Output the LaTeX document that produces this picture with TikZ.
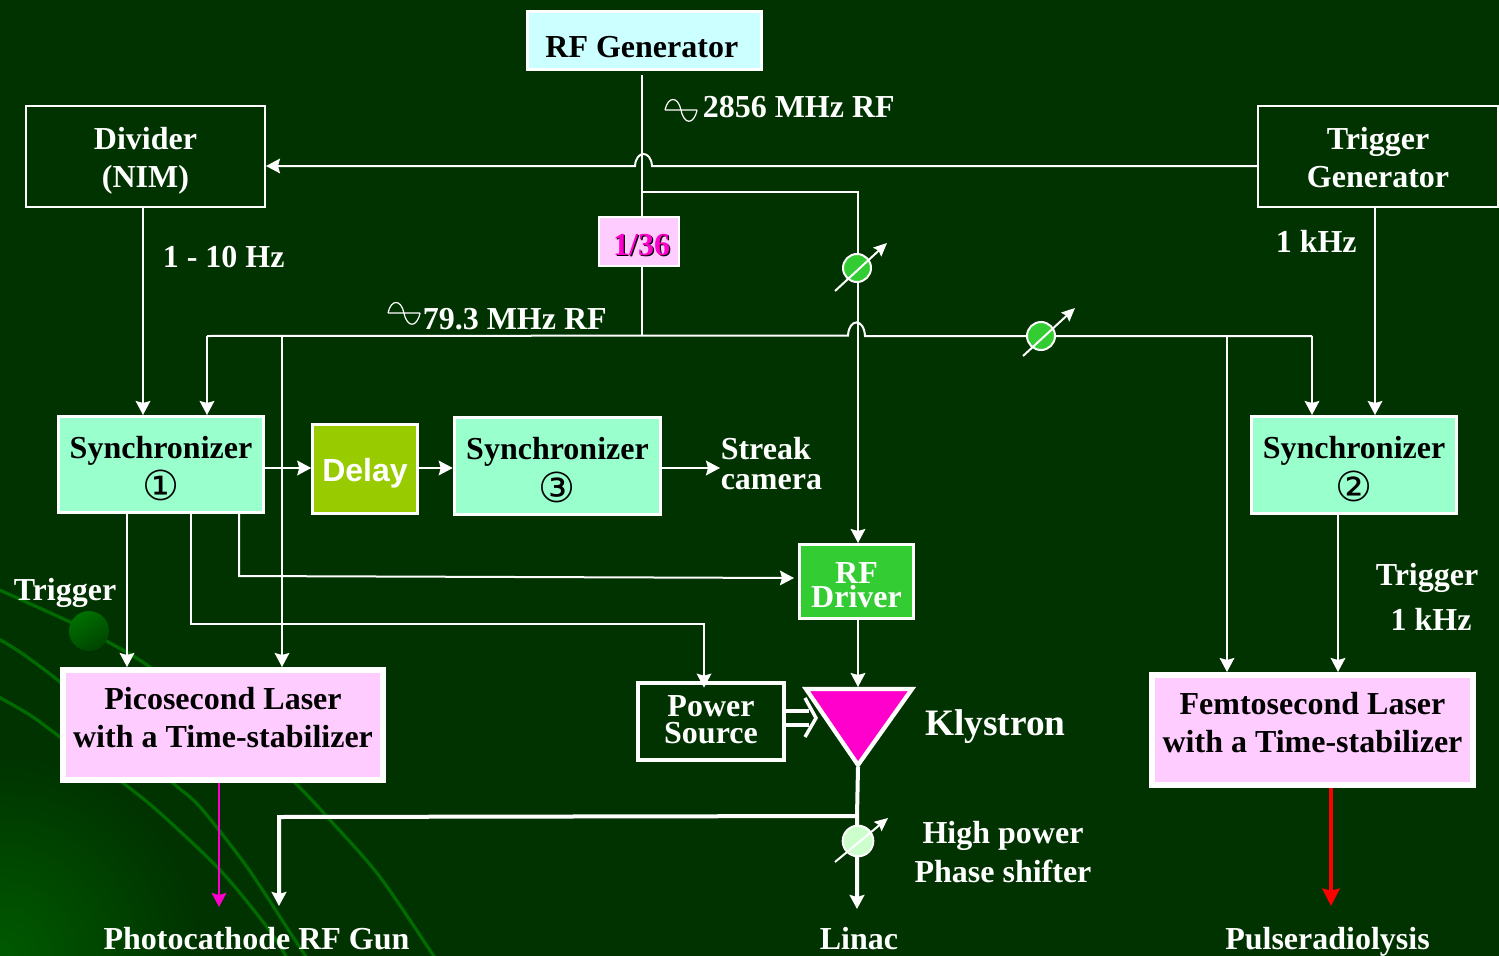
\documentclass[tikz,border=0pt]{standalone}
\usepackage{fontspec}
\setmainfont{Liberation Serif}
\newfontfamily\delayfont{Liberation Sans}
\newfontfamily\symfont{DejaVu Sans}
\usetikzlibrary{arrows.meta,calc}
\definecolor{bgc}{HTML}{003300}
\definecolor{cornerc}{HTML}{005A00}
\definecolor{swoosh}{HTML}{006C00}
\definecolor{dotlight}{HTML}{007000}
\definecolor{dotdark}{HTML}{004400}
\definecolor{cyanbox}{HTML}{CCFFFF}
\definecolor{pinkbox}{HTML}{FFCCFF}
\definecolor{mintbox}{HTML}{99FFCC}
\definecolor{oliveb}{HTML}{99CC00}
\definecolor{greenb}{HTML}{33CC33}
\definecolor{paleg}{HTML}{CCFFCC}
\definecolor{magc}{HTML}{FF00CC}
\definecolor{redc}{HTML}{FF0000}
\pgfdeclareradialshading{cornerglow}{\pgfpoint{0bp}{0bp}}{color(0bp)=(cornerc); color(25bp)=(bgc); color(50bp)=(bgc)}
\newcommand{\twol}[4]{\smash{\raisebox{#1}{\fontsize{24}{#2}\bfseries\selectfont\begin{tabular}{@{}c@{}}\smash{#3}\\\smash{#4}\end{tabular}}}}
\newcommand{\onel}[2]{\smash{\raisebox{#1}{\fontsize{24}{28}\bfseries\selectfont #2}}}
\newcommand{\circd}[1]{{\fontsize{31}{31}\symfont\mdseries #1}}
\tikzset{
  x=0.75pt,y=-0.75pt,
  bx/.style n args={3}{draw=white,line width=#3*0.75pt,inner sep=0pt,minimum width=#1*0.75pt,minimum height=#2*0.75pt},
  lab/.style={text=white,inner sep=0pt,font=\fontsize{24}{28}\bfseries\selectfont},
  wire/.style={draw=white,line width=1.5pt,line join=miter},
  tipa/.style={-{Stealth[length=10.5pt,width=11pt,inset=1.5pt]}},
  arr/.style={wire,tipa},
  thick wire/.style={draw=white,line width=3pt},
  shifter/.style={circle,draw=white,line width=1.5pt,inner sep=0pt,minimum size=21pt,fill=greenb},
  shifterarrow/.style={draw=white,line width=1.5pt,-{Stealth[length=10pt,width=9pt,inset=1.5pt]}},
  sinewave/.style={draw=white,line width=0.9pt},
  swooshline/.style={draw=swoosh,line width=2.4pt,smooth},
}
\begin{document}
\begin{tikzpicture}
\useasboundingbox (0,0) rectangle (1499,956);
\fill[bgc] (0,0) rectangle (1499,956);
\begin{scope}
\clip (0,0) rectangle (1499,956);
\shade[shading=cornerglow] (0,956) circle (200);
\draw[swooshline] plot coordinates {(-5,588) (70,622) (110,643) (147,665) (230,725) (295,783) (330,820) (380,877) (435,958)};
\draw[swooshline] plot coordinates {(-5,637) (20,652) (60,682) (120,735) (173,783) (200,807) (247,867) (293,937) (307,958)};
\draw[swooshline] plot coordinates {(-5,695) (30,715) (60,737) (123,783) (160,813) (220,870) (267,927) (287,958)};
\shade[left color=dotlight,right color=dotdark,shading angle=30] (89,631) circle (20);
\end{scope}

% guide coordinates
\coordinate (hline) at (0,166);
\coordinate (rfline) at (0,192);
\coordinate (lowline) at (0,336);
\coordinate (mainx) at (642,0);
\coordinate (phx) at (858,0);
\coordinate (cA) at (127,0);
\coordinate (cB) at (191,0);
\coordinate (cC) at (239,0);
\coordinate (cD) at (282,0);
\coordinate (cE) at (207,0);
\coordinate (cF) at (143,0);
\coordinate (cG) at (704,0);
\coordinate (cH) at (1227,0);
\coordinate (cI) at (1312,0);
\coordinate (cJ) at (1375,0);
\coordinate (cK) at (1338,0);
\coordinate (cL) at (219,0);
\coordinate (cM) at (1331,0);
\coordinate (rowA) at (0,468);

% boxes
\node[bx={234}{58}{3},fill=cyanbox,text=black] (rfgen) at (644.5,40.5) {\onel{-13pt}{\hspace{-4pt}RF Generator}};
\node[bx={239}{101}{2},text=white] (divider) at (145.5,156.5) {\twol{-9.25pt}{28.5pt}{Divider}{(NIM)}};
\node[bx={240}{101}{2},text=white] (trigger) at (1378,156.5) {\twol{-9.25pt}{28.5pt}{Trigger}{Generator}};
\node[bx={80}{49}{2},fill=pinkbox] (div36) at (639,241.5) {\onel{-10.5pt}{\hspace{4pt}\makebox[0pt][l]{\kern0.9pt\raisebox{-0.9pt}{\color{black}1/36}}\textcolor{magc}{1/36}}};
\node[bx={205}{96}{3},fill=mintbox,text=black] (sync1) at (161,464.5) {\twol{-11pt}{32pt}{Synchronizer}{\circd{①}}};
\node[bx={105}{89}{2.5},fill=oliveb,text=white] (delay) at (365,469) {\smash{\raisebox{-9.4pt}{\delayfont\bfseries\fontsize{24}{28}\selectfont Delay}}};
\node[bx={206}{97}{3.5},fill=mintbox,text=black] (sync3) at (557.5,466) {\twol{-11pt}{32pt}{Synchronizer}{\circd{③}}};
\node[bx={205}{97}{3},fill=mintbox,text=black] (sync2) at (1354,465) {\twol{-11pt}{32pt}{Synchronizer}{\circd{②}}};
\node[bx={114}{74}{3},fill=greenb,text=white] (rfdriver) at (856.5,581.5) {\twol{-13pt}{18pt}{RF}{Driver}};
\node[bx={320}{110}{6},fill=pinkbox,text=black] (pico) at (223,725) {\twol{-3.25pt}{28.5pt}{Picosecond Laser}{with a Time-stabilizer}};
\node[bx={321}{110}{6},fill=pinkbox,text=black] (femto) at (1312.5,730) {\twol{-3.25pt}{28.5pt}{Femtosecond Laser}{with a Time-stabilizer}};
\node[bx={146}{77}{4},text=white] (power) at (711,721.5) {\twol{-8.4pt}{20.25pt}{Power}{Source}};

% klystron anchor points
\coordinate (kTL) at (806,689);
\coordinate (kTR) at (912,689);
\coordinate (kB) at (858,765);
\coordinate (kTop) at (858,687);
\coordinate (kBot) at (858,767);
\coordinate (kOut) at (857,816);

% free ends
\coordinate (streakend) at (720,468);
\coordinate (gunend) at (279,906);
\coordinate (linacend) at (857,909);
\coordinate (pcend) at (219,907);
\coordinate (prend) at (1331,906);

% trigger line with hop over main RF line
\draw[arr] (trigger.west |- hline) -- (652,166) .. controls (651,150) and (636,150) .. (635,166) -- (divider.east |- hline);
% RF
\draw[wire] (642,75) -- (div36.north -| mainx);
\draw[wire] (642,192) -- (858,192) -- (858,336);
\draw[wire] (div36.south -| mainx) -- (642,336);
\draw[arr] (858,336) -- (rfdriver.north -| phx);
% low frequency bus
\draw[arr] (207,336) -- (sync1.north -| cE);
\draw[wire] (207,336) -- (848,335.5) .. controls (849,318) and (864,318) .. (865,336) -- (1312,336);
\draw[arr] (1312,336) -- (sync2.north -| cI);
\draw[arr] (282,336) -- (pico.north -| cD);
\draw[arr] (1227,336) -- (femto.north -| cH);
\draw[arr] (trigger.south -| cJ) -- (sync2.north -| cJ);
\draw[arr] (divider.south -| cF) -- (sync1.north -| cF);
% row
\draw[arr] (sync1.east |- rowA) -- (delay.west |- rowA);
\draw[arr] (delay.east |- rowA) -- (sync3.west |- rowA);
\draw[arr] (sync3.east |- rowA) -- (streakend);
% sync1 outputs
\draw[arr] (sync1.south -| cA) -- (pico.north -| cA);
\draw[arr,shorten >=-5pt] (sync1.south -| cB) -- (191,624) -- (704,624) -- (power.north -| cG);
\draw[arr] (sync1.south -| cC) -- (239,576) -- (794,578);
\draw[arr] (sync2.south -| cK) -- (femto.north -| cK);
\draw[arr] (rfdriver.south -| phx) -- (kTop);
% laser outputs
\draw[draw=magc,line width=1.9pt,tipa] (pico.south -| cL) -- (pcend);
\draw[draw=redc,line width=3.4pt,-{Stealth[length=13pt,width=13pt,inset=1.5pt]}] (femto.south -| cM) -- (prend);
% klystron outputs
\draw[thick wire,tipa] (kBot) -- (kOut) -- (linacend);
\draw[thick wire,tipa,line join=miter] (kOut) -- (279,817) -- (gunend);
% power feed
\draw[draw=white,line width=2.6pt] (power.east |- 0,711) -- (809,711) (power.east |- 0,725) -- (809,725);
\draw[draw=white,line width=2.6pt] (805,698) -- (816,718) -- (805,737);
% klystron
\fill[magc,draw=white,line width=3.2pt,line join=miter] (kTL) -- (kTR) -- (kB) -- cycle;

% phase shifters
\node[shifter] (ps1) at (857,268) {};
\draw[shifterarrow] (835,291) -- (887,243);
\node[shifter] (ps2) at (1041,336) {};
\draw[shifterarrow] (1023,356) -- (1075,308);
\node[shifter,fill=paleg,minimum size=23pt] (ps3) at (858,841) {};
\draw[shifterarrow] (835,862) -- (888,818);

% sine symbols
\draw[sinewave] (665,110) -- (697,110) (665,110) .. controls (668,96) and (678,96) .. (681,110) .. controls (684,125) and (694,125) .. (697,110);
\draw[sinewave] (388,313) -- (420,313) (388,313) .. controls (391,299) and (401,299) .. (404,313) .. controls (407,328) and (417,328) .. (420,313);

% labels
\node[lab,anchor=base west] (t2856) at (702.5,117.5) {2856 MHz RF};
\node[lab,anchor=base west] (t110) at (162.5,267.5) {1 - 10 Hz};
\node[lab,anchor=base west] (t1k) at (1275.5,252.5) {1 kHz};
\node[lab,anchor=base west] (t79) at (422.5,329) {79.3 MHz RF};
\node[lab,anchor=base west] (tstreak) at (720.5,459) {Streak};
\node[lab,anchor=base west] (tcamera) at (720.5,489) {camera};
\node[lab,anchor=base west] (ttrigl) at (13.5,600.5) {Trigger};
\node[lab,anchor=base] (ttrigr) at (1427,585.5) {Trigger};
\node[lab,anchor=base] (t1kr) at (1431,630) {1 kHz};
\node[lab,anchor=base west,font=\fontsize{28}{30}\bfseries\selectfont] (tkly) at (925,735) {Klystron};
\node[lab,anchor=base] (thigh) at (1003,843) {High power};
\node[lab,anchor=base] (tphase) at (1003,882) {Phase shifter};
\node[lab,anchor=base] (tgun) at (256.5,949) {Photocathode RF Gun};
\node[lab,anchor=base] (tlinac) at (859,949) {Linac};
\node[lab,anchor=base] (tpulse) at (1327.5,949) {Pulseradiolysis};
\end{tikzpicture}
\end{document}
